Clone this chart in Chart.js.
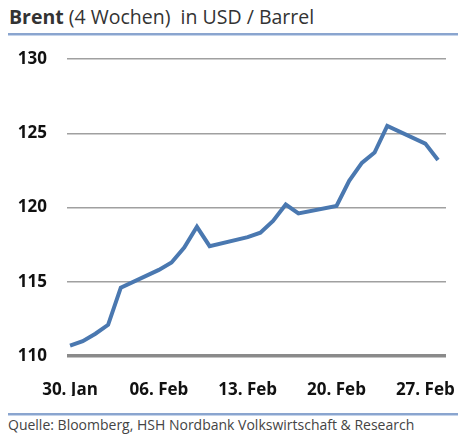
<!DOCTYPE html>
<html>
<head>
<meta charset="utf-8">
<script src="https://cdn.jsdelivr.net/npm/chart.js@4/dist/chart.umd.min.js"></script>
<style>
  html, body { margin:0; padding:0; background:#fff; }
  #wrap { position:relative; width:460px; height:434px; overflow:hidden; font-family:"Open Sans", sans-serif; }
  #title { position:absolute; left:9px; top:3px; font-size:19.5px; color:#333; white-space:nowrap; }
  #title b { font-weight:700; }
  .rule { position:absolute; left:8px; width:450px; height:3px;
          background:linear-gradient(#8aa5cf 0, #8aa5cf 60%, #c5d4ea 60%, #c5d4ea 100%); }
  #src { position:absolute; left:8px; top:415px; font-size:14px; color:#444; white-space:nowrap; }
  canvas { position:absolute; left:0; top:0; }
</style>
</head>
<body>
<div id="wrap">
  <div id="title"><b>Brent</b> (4 Wochen)&nbsp; in USD / Barrel</div>
  <div class="rule" style="top:33px"></div>
  <div class="rule" style="top:413px"></div>
  <div id="src">Quelle: Bloomberg, HSH Nordbank Volkswirtschaft &amp; Research</div>
  <canvas id="c" width="460" height="434"></canvas>
</div>
<script>
// day index: 0 = 30. Jan (calendar days; weekends have no quote)
const dayIndex = [0,1,2,3,4, 7,8,9,10,11, 14,15,16,17,18, 21,22,23,24,25, 28,29];
const brent    = [110.7,111.0,111.5,112.1,114.6, 115.8,116.3,117.3,118.7,117.4,
                  118.0,118.3,119.1,120.2,119.6, 120.1,121.8,123.0,123.7,125.5,
                  124.3,123.2];
const tickDays   = [0,7,14,21,28];
const tickLabels = ['30. Jan','06. Feb','13. Feb','20. Feb','27. Feb'];
const yTicks     = [110,115,120,125,130];

const points = dayIndex.map((d,i)=>({x:d, y:brent[i]}));

new Chart(document.getElementById('c'), {
  type:'line',
  data:{ datasets:[{ data:points, borderColor:'#4a78b0', borderWidth:4, pointRadius:0,
                     tension:0, fill:false, borderJoinStyle:'miter' }] },
  options:{
    responsive:false, animation:false,
    layout:{ padding:{ left:0, right:14, top:59, bottom:38 } },
    plugins:{ legend:{display:false}, tooltip:{enabled:false}, title:{display:false} },
    scales:{
      x:{
        type:'linear', min:-0.24, max:29.63,
        afterBuildTicks:(s)=>{ s.ticks = tickDays.map(v=>({value:v})); },
        afterFit:(s)=>{ s.height = 40; s.paddingLeft = 0; s.paddingRight = 0; },
        grid:{ display:false, drawTicks:false },
        border:{ display:false },
        ticks:{ autoSkip:false, maxRotation:0, padding:24, color:'#111',
                font:{ family:'"Open Sans", sans-serif', size:17, weight:'bold' },
                callback:(v)=>{ const i = tickDays.indexOf(v); return i>=0 ? tickLabels[i] : ''; } }
      },
      y:{
        min:110, max:130,
        afterBuildTicks:(s)=>{ s.ticks = yTicks.map(v=>({value:v})); },
        afterFit:(s)=>{ s.width = 67; },
        border:{ display:false },
        grid:{ drawTicks:false,
               color:(c)=> c.tick && c.tick.value===110 ? '#8a8a8a' : '#a0a0a0',
               lineWidth:(c)=> c.tick && c.tick.value===110 ? 3.5 : 1.5 },
        ticks:{ padding:20, color:'#111',
                font:{ family:'"Open Sans", sans-serif', size:17, weight:'bold' } }
      }
    }
  }
});
</script>
</body>
</html>
